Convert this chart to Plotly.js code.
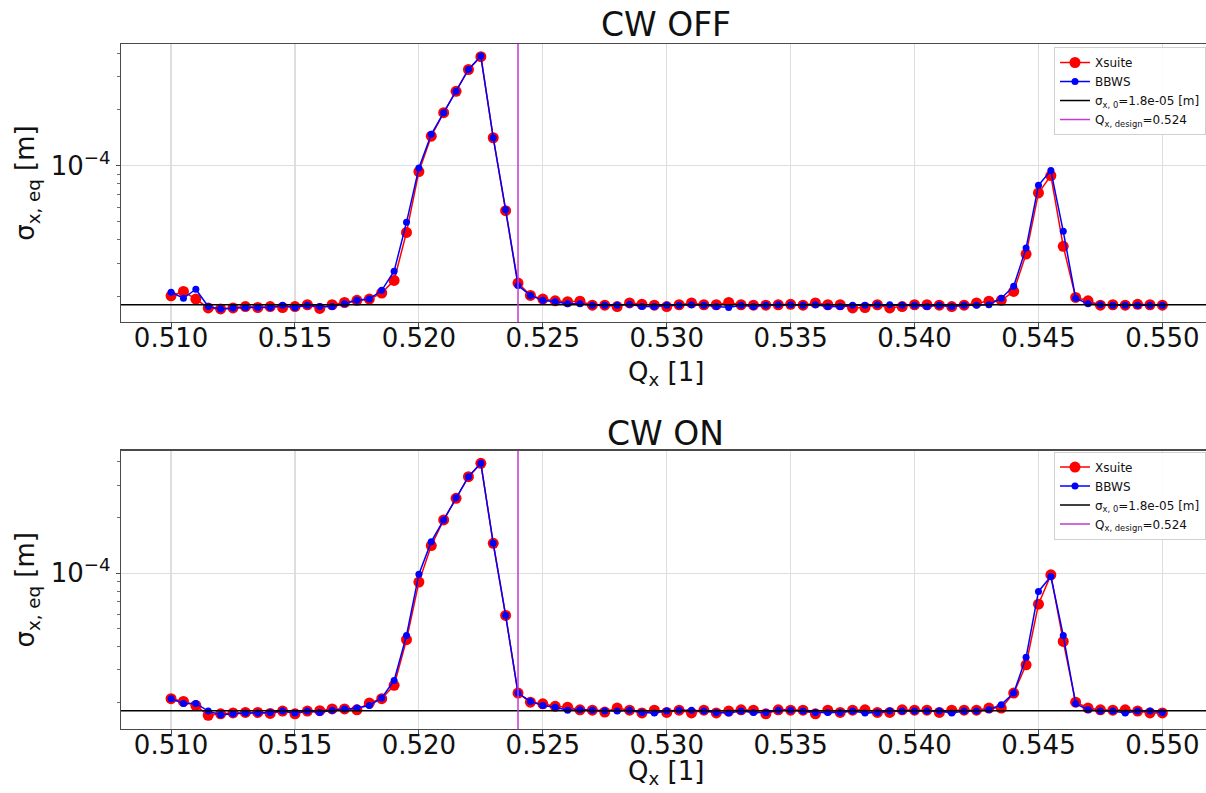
<!DOCTYPE html>
<html>
<head>
<meta charset="utf-8">
<script src="https://cdn.plot.ly/plotly-3.0.1.min.js"></script>
<style>
  html, body { margin: 0; padding: 0; background: #ffffff; overflow: hidden; }
  #chart { width: 1206px; height: 793px; }
</style>
</head>
<body>
<div id="chart"></div>
<script>
// Horizontal tune scan
const qx = [
  0.5100, 0.5105, 0.5110, 0.5115, 0.5120, 0.5125, 0.5130, 0.5135, 0.5140, 0.5145,
  0.5150, 0.5155, 0.5160, 0.5165, 0.5170, 0.5175, 0.5180, 0.5185, 0.5190, 0.5195,
  0.5200, 0.5205, 0.5210, 0.5215, 0.5220, 0.5225, 0.5230, 0.5235, 0.5240, 0.5245,
  0.5250, 0.5255, 0.5260, 0.5265, 0.5270, 0.5275, 0.5280, 0.5285, 0.5290, 0.5295,
  0.5300, 0.5305, 0.5310, 0.5315, 0.5320, 0.5325, 0.5330, 0.5335, 0.5340, 0.5345,
  0.5350, 0.5355, 0.5360, 0.5365, 0.5370, 0.5375, 0.5380, 0.5385, 0.5390, 0.5395,
  0.5400, 0.5405, 0.5410, 0.5415, 0.5420, 0.5425, 0.5430, 0.5435, 0.5440, 0.5445,
  0.5450, 0.5455, 0.5460, 0.5465, 0.5470, 0.5475, 0.5480, 0.5485, 0.5490, 0.5495,
  0.5500
];

// Equilibrium beam size, crab waist off [m]
const xsuiteOff = [
  2.01e-5, 2.12e-5, 1.93e-5, 1.73e-5, 1.71e-5, 1.73e-5, 1.76e-5, 1.74e-5, 1.76e-5, 1.74e-5,
  1.76e-5, 1.80e-5, 1.72e-5, 1.80e-5, 1.85e-5, 1.90e-5, 1.93e-5, 2.08e-5, 2.43e-5, 4.39e-5,
  9.29e-5, 1.437e-4, 1.92e-4, 2.50e-4, 3.27e-4, 3.83e-4, 1.41e-4, 5.74e-5, 2.35e-5, 2.02e-5,
  1.93e-5, 1.89e-5, 1.87e-5, 1.88e-5, 1.79e-5, 1.79e-5, 1.76e-5, 1.84e-5, 1.81e-5, 1.79e-5,
  1.76e-5, 1.80e-5, 1.84e-5, 1.80e-5, 1.80e-5, 1.85e-5, 1.80e-5, 1.79e-5, 1.79e-5, 1.80e-5,
  1.81e-5, 1.79e-5, 1.84e-5, 1.80e-5, 1.80e-5, 1.73e-5, 1.74e-5, 1.80e-5, 1.73e-5, 1.76e-5,
  1.80e-5, 1.80e-5, 1.79e-5, 1.76e-5, 1.79e-5, 1.84e-5, 1.88e-5, 1.90e-5, 2.12e-5, 3.36e-5,
  7.14e-5, 8.84e-5, 3.70e-5, 1.97e-5, 1.89e-5, 1.79e-5, 1.80e-5, 1.79e-5, 1.81e-5, 1.80e-5,
  1.79e-5
];
const bbwsOff = [
  2.10e-5, 1.95e-5, 2.18e-5, 1.76e-5, 1.71e-5, 1.73e-5, 1.74e-5, 1.74e-5, 1.74e-5, 1.79e-5,
  1.74e-5, 1.79e-5, 1.76e-5, 1.76e-5, 1.82e-5, 1.90e-5, 1.93e-5, 2.15e-5, 2.72e-5, 4.97e-5,
  9.72e-5, 1.47e-4, 1.92e-4, 2.50e-4, 3.27e-4, 3.86e-4, 1.41e-4, 5.81e-5, 2.28e-5, 2.02e-5,
  1.90e-5, 1.87e-5, 1.82e-5, 1.82e-5, 1.79e-5, 1.79e-5, 1.79e-5, 1.81e-5, 1.76e-5, 1.76e-5,
  1.79e-5, 1.79e-5, 1.80e-5, 1.79e-5, 1.76e-5, 1.74e-5, 1.79e-5, 1.76e-5, 1.79e-5, 1.80e-5,
  1.80e-5, 1.79e-5, 1.80e-5, 1.76e-5, 1.76e-5, 1.79e-5, 1.79e-5, 1.80e-5, 1.80e-5, 1.79e-5,
  1.79e-5, 1.76e-5, 1.79e-5, 1.76e-5, 1.79e-5, 1.79e-5, 1.80e-5, 1.95e-5, 2.26e-5, 3.62e-5,
  7.85e-5, 9.41e-5, 4.45e-5, 1.95e-5, 1.82e-5, 1.80e-5, 1.79e-5, 1.79e-5, 1.79e-5, 1.79e-5,
  1.79e-5
];

// Equilibrium beam size, crab waist on [m]
const xsuiteOn = [
  2.09e-5, 2.02e-5, 1.92e-5, 1.70e-5, 1.73e-5, 1.75e-5, 1.76e-5, 1.76e-5, 1.74e-5, 1.79e-5,
  1.73e-5, 1.79e-5, 1.80e-5, 1.84e-5, 1.84e-5, 1.82e-5, 1.98e-5, 2.09e-5, 2.47e-5, 4.36e-5,
  8.94e-5, 1.41e-4, 1.94e-4, 2.54e-4, 3.33e-4, 3.93e-4, 1.45e-4, 5.90e-5, 2.24e-5, 2.00e-5,
  1.96e-5, 1.90e-5, 1.88e-5, 1.82e-5, 1.81e-5, 1.77e-5, 1.86e-5, 1.81e-5, 1.75e-5, 1.81e-5,
  1.76e-5, 1.81e-5, 1.75e-5, 1.81e-5, 1.75e-5, 1.79e-5, 1.82e-5, 1.81e-5, 1.73e-5, 1.82e-5,
  1.81e-5, 1.81e-5, 1.73e-5, 1.81e-5, 1.76e-5, 1.81e-5, 1.82e-5, 1.76e-5, 1.76e-5, 1.82e-5,
  1.81e-5, 1.81e-5, 1.76e-5, 1.81e-5, 1.81e-5, 1.81e-5, 1.86e-5, 1.86e-5, 2.24e-5, 3.19e-5,
  6.79e-5, 9.79e-5, 4.27e-5, 2.00e-5, 1.86e-5, 1.82e-5, 1.81e-5, 1.82e-5, 1.79e-5, 1.75e-5,
  1.75e-5
];
const bbwsOn = [
  2.09e-5, 1.97e-5, 1.97e-5, 1.79e-5, 1.71e-5, 1.73e-5, 1.75e-5, 1.75e-5, 1.76e-5, 1.79e-5,
  1.75e-5, 1.79e-5, 1.76e-5, 1.81e-5, 1.84e-5, 1.86e-5, 1.92e-5, 2.11e-5, 2.62e-5, 4.60e-5,
  9.87e-5, 1.48e-4, 1.94e-4, 2.56e-4, 3.33e-4, 3.93e-4, 1.45e-4, 5.90e-5, 2.24e-5, 2.02e-5,
  1.92e-5, 1.88e-5, 1.81e-5, 1.82e-5, 1.81e-5, 1.79e-5, 1.79e-5, 1.81e-5, 1.76e-5, 1.75e-5,
  1.79e-5, 1.81e-5, 1.81e-5, 1.79e-5, 1.76e-5, 1.75e-5, 1.79e-5, 1.76e-5, 1.76e-5, 1.81e-5,
  1.81e-5, 1.79e-5, 1.76e-5, 1.76e-5, 1.76e-5, 1.79e-5, 1.75e-5, 1.76e-5, 1.79e-5, 1.79e-5,
  1.79e-5, 1.79e-5, 1.79e-5, 1.75e-5, 1.79e-5, 1.79e-5, 1.82e-5, 1.94e-5, 2.24e-5, 3.50e-5,
  7.96e-5, 9.59e-5, 4.60e-5, 1.96e-5, 1.82e-5, 1.79e-5, 1.79e-5, 1.75e-5, 1.79e-5, 1.79e-5,
  1.76e-5
];

// Reference values
const sigma0 = 1.8e-5;     // design beam size [m]
const qDesign = 0.524;     // design horizontal tune
const panelTitles = ['CW OFF', 'CW ON'];
const seriesNames = ['Xsuite', 'BBWS'];
const xLabel = 'Q<sub>x</sub> [1]';
const yLabel = '\u03c3<sub>x, eq</sub> [m]';
const xTickVals = [0.510, 0.515, 0.520, 0.525, 0.530, 0.535, 0.540, 0.545, 0.550];
const yTickVals = [1e-4];
const yTickText = ['10<sup>\u22124</sup>'];
const yMinorVals = [2e-5, 3e-5, 4e-5, 5e-5, 6e-5, 7e-5, 8e-5, 9e-5, 2e-4, 3e-4, 4e-4];

const FONT = 'DejaVu Sans, Liberation Sans, sans-serif';
const GRID = '#dedede';
const SPINE = '#4a4a4a';
const RED = '#ff0000';
const BLUE = '#0000ff';
const MAGENTA = '#c23ad0';

function seriesPair(red, blue, xa, ya, legendId) {
  return [
    {
      x: qx, y: red, xaxis: xa, yaxis: ya, legend: legendId,
      name: seriesNames[0], type: 'scatter', mode: 'lines+markers',
      line: { color: RED, width: 1.5 },
      marker: { color: RED, size: 11, line: { width: 0 } },
      legendrank: 1
    },
    {
      x: qx, y: blue, xaxis: xa, yaxis: ya, legend: legendId,
      name: seriesNames[1], type: 'scatter', mode: 'lines+markers',
      line: { color: BLUE, width: 1.5 },
      marker: { color: BLUE, size: 7, line: { width: 0 } },
      legendrank: 2
    }
  ];
}

const data = [].concat(
  seriesPair(xsuiteOff, bbwsOff, 'x', 'y', 'legend'),
  seriesPair(xsuiteOn, bbwsOn, 'x2', 'y2', 'legend2')
);

function xAxis(anchor) {
  return {
    anchor: anchor,
    range: [0.50798, 0.55176],
    tickmode: 'array', tickvals: xTickVals, tickformat: '.3f',
    ticks: 'outside', ticklen: 4, tickwidth: 1, tickcolor: SPINE,
    ticklabelstandoff: -11,
    showgrid: true, gridcolor: GRID, gridwidth: 1.2,
    showline: true, linecolor: SPINE, linewidth: 1.2, mirror: true,
    zeroline: false,
    tickfont: { family: FONT, size: 26, color: '#111' }
  };
}
function yAxis(domain, range) {
  return {
    type: 'log', domain: domain, range: range,
    tickmode: 'array', tickvals: yTickVals, ticktext: yTickText,
    ticks: 'outside', ticklen: 4, tickwidth: 1, tickcolor: SPINE,
    minor: { tickmode: 'array', tickvals: yMinorVals, ticks: 'outside', ticklen: 2.5, tickwidth: 0.8, tickcolor: SPINE, showgrid: false },
    showgrid: true, gridcolor: GRID, gridwidth: 1.2,
    showline: true, linecolor: SPINE, linewidth: 1.2, mirror: false,
    zeroline: false,
    tickfont: { family: FONT, size: 26, color: '#111' },
    title: { text: yLabel, font: { family: FONT, size: 26, color: '#111' }, standoff: 8 }
  };
}

function refLines(xa, ya, legendId) {
  return [
    {
      type: 'line', xref: xa + ' domain', x0: 0, x1: 1, yref: ya, y0: sigma0, y1: sigma0,
      line: { color: '#000000', width: 1.5 }, layer: 'above',
      showlegend: true, legend: legendId, legendrank: 3,
      name: '\u03c3<sub>x, 0</sub>=1.8e-05 [m]'
    },
    {
      type: 'line', xref: xa, x0: qDesign, x1: qDesign, yref: ya + ' domain', y0: 0, y1: 1,
      line: { color: MAGENTA, width: 1.5 }, layer: 'above',
      showlegend: true, legend: legendId, legendrank: 4,
      name: 'Q<sub>x, design</sub>=0.524'
    }
  ];
}

function legendBox(yTop) {
  return {
    x: 1, xanchor: 'right', y: yTop, yanchor: 'top',
    bgcolor: 'rgba(255,255,255,0.9)', bordercolor: '#d0d0d0', borderwidth: 1,
    font: { family: FONT, size: 12, color: '#111' },
    tracegroupgap: 0, itemwidth: 30
  };
}

function label(text, x, y, size) {
  return { text: text, xref: 'paper', yref: 'paper', x: x, y: y, xanchor: 'center', yanchor: 'middle',
           showarrow: false, font: { family: FONT, size: size, color: '#111' } };
}

const layout = {
  width: 1206, height: 793,
  margin: { l: 121, r: 0, t: 44, b: 64 },
  paper_bgcolor: '#ffffff', plot_bgcolor: '#ffffff',
  font: { family: FONT, color: '#111' },
  showlegend: true,
  xaxis: xAxis('y'),
  yaxis: yAxis([0.5942, 1], [-4.837, -3.349]),
  xaxis2: xAxis('y2'),
  yaxis2: yAxis([0, 0.4063], [-4.844, -3.337]),
  legend: legendBox(0.9956),
  legend2: legendBox(0.405),
  shapes: [].concat(refLines('x', 'y', 'legend'), refLines('x2', 'y2', 'legend2')),
  annotations: [
    label(panelTitles[0], 0.5023, 1.028, 33),
    label(panelTitles[1], 0.5023, 0.432, 33),
    label(xLabel, 0.5023, 0.519, 26),
    label(xLabel, 0.5023, -0.064, 26)
  ]
};

Plotly.newPlot('chart', data, layout, { staticPlot: true, displayModeBar: false });
</script>
</body>
</html>
